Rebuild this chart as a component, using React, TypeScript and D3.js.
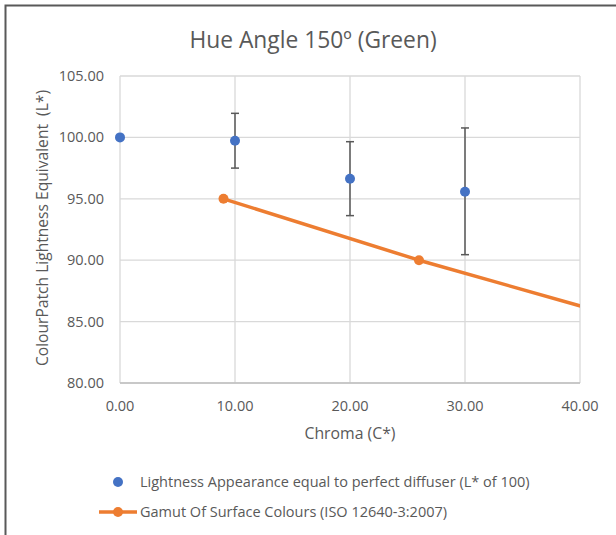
import React from "react";
import * as d3 from "d3";

const chromaPoints = [0, 10, 20, 30];
const lightnessValues = [100.0, 99.73, 96.64, 95.58];
const errorPlus = [0, 2.23, 3.01, 5.19];
const errorMinus = [0, 2.23, 3.01, 5.13];

const gamutChroma = [9.0, 26.0, 45.0];
const gamutLightness = [95.0, 90.0, 84.95];
const gamutMarkerCount = 2;

const xTicks = [0, 10, 20, 30, 40];
const yTicks = [80, 85, 90, 95, 100, 105];

const title = "Hue Angle 150º (Green)";
const xTitle = "Chroma (C*)";
const yTitle = "ColourPatch Lightness Equivalent  (L*)";
const legend1 = "Lightness Appearance equal to perfect diffuser (L* of 100)";
const legend2 = "Gamut Of Surface Colours (ISO 12640-3:2007)";

const BLUE = "#4472C4";
const ORANGE = "#ED7D31";
const FONT = "'Open Sans', 'Liberation Sans', sans-serif";

export default function App() {
  const W = 616, H = 535;
  const left = 120, right = 580, top = 76, bottom = 383;
  const x = d3.scaleLinear().domain([0, 40]).range([left, right]);
  const y = d3.scaleLinear().domain([80, 105]).range([bottom, top]);
  const line = d3
    .line<number>()
    .x((_, i) => x(gamutChroma[i]))
    .y((d) => y(d));

  return (
    <svg
      width={W}
      height={H}
      style={{ position: "absolute", left: 0, top: 0, background: "#fff" }}
      fontFamily={FONT}
    >
      <defs>
        <clipPath id="plotclip">
          <rect x={left} y={top} width={right - left} height={bottom - top} />
        </clipPath>
      </defs>
      <rect x={0} y={0} width={W} height={H} fill="#fff" />
      {/* outer border */}
      <path d={`M5.5,${H + 2} L5.5,5.5 L${W + 2},5.5`} fill="none" stroke="#595959" strokeWidth={2} />

      {/* title */}
      <text x={313} y={48} textAnchor="middle" fontSize={22.8} fill="#595959">
        {title}
      </text>

      {/* gridlines */}
      {yTicks.map((t) => (
        <line key={"gy" + t} x1={left} x2={right} y1={y(t)} y2={y(t)} stroke="#d9d9d9" strokeWidth={1.3} />
      ))}
      {xTicks.map((t) => (
        <line key={"gx" + t} x1={x(t)} x2={x(t)} y1={top} y2={bottom} stroke="#d9d9d9" strokeWidth={1.3} />
      ))}
      <line x1={left} x2={right} y1={bottom} y2={bottom} stroke="#bfbfbf" strokeWidth={1.5} />

      {/* y tick labels */}
      {yTicks.map((t) => (
        <text key={"ly" + t} x={104} y={y(t) + 5} textAnchor="end" fontSize={14.5} fill="#595959">
          {d3.format(".2f")(t)}
        </text>
      ))}
      {/* x tick labels */}
      {xTicks.map((t) => (
        <text key={"lx" + t} x={x(t)} y={411} textAnchor="middle" fontSize={14.5} fill="#595959">
          {d3.format(".2f")(t)}
        </text>
      ))}

      {/* axis titles */}
      <text x={350} y={439} textAnchor="middle" fontSize={15.8} fill="#595959">
        {xTitle}
      </text>
      <text
        transform={`translate(48,228) rotate(-90)`}
        textAnchor="middle"
        fontSize={15.6}
        fill="#595959"
        style={{ whiteSpace: "pre" }}
      >
        {yTitle}
      </text>

      {/* gamut line */}
      <g clipPath="url(#plotclip)">
        <path d={line(gamutLightness) || ""} fill="none" stroke={ORANGE} strokeWidth={3.5} strokeLinejoin="round" />
      </g>
      {gamutLightness.slice(0, gamutMarkerCount).map((v, i) => (
        <circle key={"go" + i} cx={x(gamutChroma[i])} cy={y(v)} r={5} fill={ORANGE} />
      ))}

      {/* error bars */}
      {chromaPoints.map((c, i) =>
        errorPlus[i] > 0 ? (
          <g key={"eb" + i} stroke="#595959" strokeWidth={1.5}>
            <line x1={x(c)} x2={x(c)} y1={y(lightnessValues[i] + errorPlus[i])} y2={y(lightnessValues[i] - errorMinus[i])} />
            <line x1={x(c) - 4} x2={x(c) + 4} y1={y(lightnessValues[i] + errorPlus[i])} y2={y(lightnessValues[i] + errorPlus[i])} />
            <line x1={x(c) - 4} x2={x(c) + 4} y1={y(lightnessValues[i] - errorMinus[i])} y2={y(lightnessValues[i] - errorMinus[i])} />
          </g>
        ) : null
      )}
      {/* blue points */}
      {chromaPoints.map((c, i) => (
        <circle key={"bp" + i} cx={x(c)} cy={y(lightnessValues[i])} r={5} fill={BLUE} />
      ))}

      {/* legend */}
      <circle cx={118} cy={482} r={5} fill={BLUE} />
      <text x={140} y={487} fontSize={14.5} fill="#595959">
        {legend1}
      </text>
      <line x1={99} x2={137} y1={512} y2={512} stroke={ORANGE} strokeWidth={3.5} />
      <circle cx={118} cy={512} r={5} fill={ORANGE} />
      <text x={140} y={517} fontSize={14.5} fill="#595959">
        {legend2}
      </text>
    </svg>
  );
}
